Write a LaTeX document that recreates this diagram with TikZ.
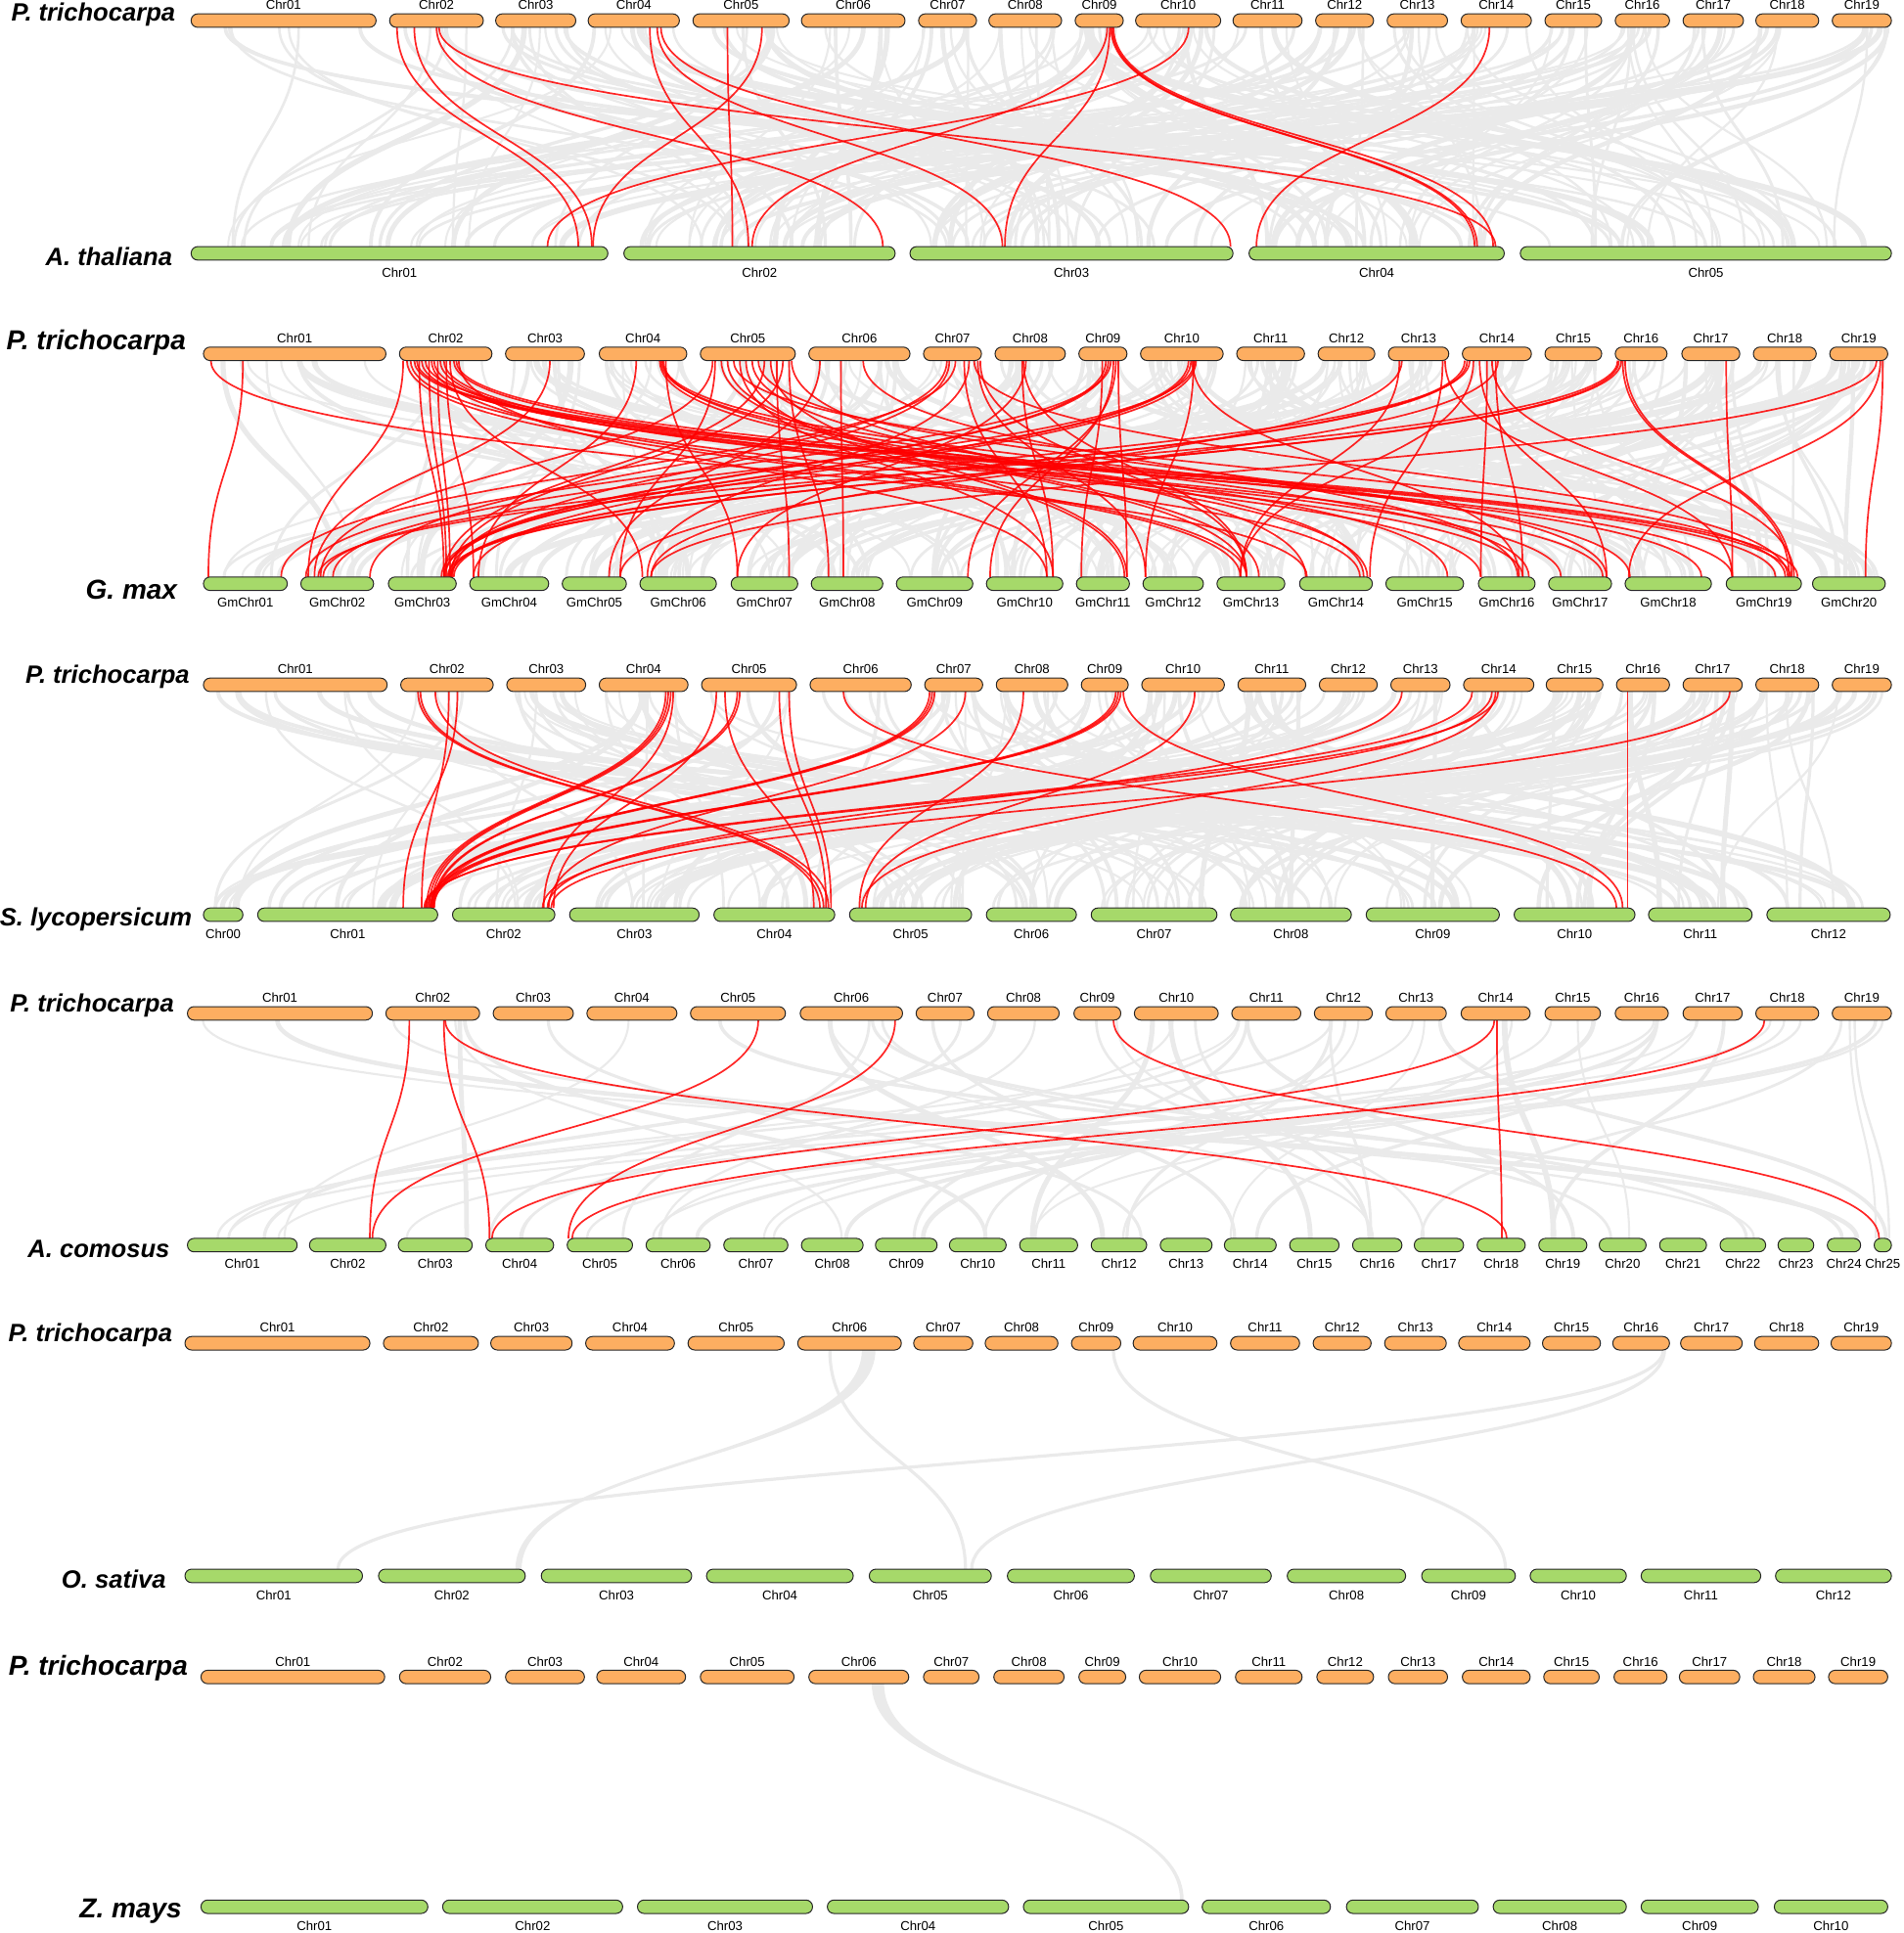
\documentclass[tikz,border=0pt]{standalone}
\usepackage{fontspec}
\setmainfont{Liberation Sans}
\usetikzlibrary{calc,backgrounds}
\definecolor{orangebar}{RGB}{253,174,97}
\definecolor{greenbar}{RGB}{166,217,106}
\definecolor{linkgray}{RGB}{234,234,234}
\definecolor{barline}{RGB}{40,40,40}
\tikzset{
  bar/.style={draw=barline, line width=0.5pt, rounded corners=3.4pt, minimum height=6.9pt, inner sep=0pt, outer sep=0pt},
  obar/.style={bar, fill=orangebar},
  gbar/.style={bar, fill=greenbar},
  clab/.style={font=\fontsize{6.6}{8}\selectfont, inner sep=0pt},
  spec/.style={font=\fontsize{12.8}{15}\selectfont\bfseries\itshape, inner sep=0pt, anchor=east},
  specbig/.style={font=\fontsize{14}{16}\selectfont\bfseries\itshape, inner sep=0pt, anchor=east},
  redl/.style={draw=red, line width=0.85pt, opacity=0.85},
  grayl/.style={draw=linkgray},
}
\newcommand\tchr[5]{\node[obar, minimum width={(#3-#2)*0.63pt}] (#1) at ({(#2+#3)/2},#4) {};
  \node[clab, anchor=south] (#1l) at ([yshift=1.9pt]#1.north) {#5};}
\newcommand\bchr[5]{\node[gbar, minimum width={(#3-#2)*0.63pt}] (#1) at ({(#2+#3)/2},#4) {};
  \node[clab, anchor=north] (#1l) at ([yshift=-3.6pt]#1.south) {#5};}
\newcommand\rlk[4]{\draw[redl] (#1.south -| #2,0) .. controls +(0,88) and +(0,-88) .. (#3.north -| #4,0);}
\newcommand\glk[5]{\draw[grayl, line width=#5pt] (#1.south -| #2,0) .. controls +(0,88) and +(0,-88) .. (#3.north -| #4,0);}
\newcommand\grib[6]{\fill[linkgray] (#1.south -| #2,0) .. controls +(0,88) and +(0,-88) .. (#4.north -| #5,0) -- (#4.north -| #6,0) .. controls +(0,-88) and +(0,88) .. (#1.south -| #3,0) -- cycle;}
\newcommand\grayset[5]{%
  \pgfmathsetseed{#5}%
  \foreach \k in {1,...,#4}{%
    \pgfmathrandominteger{\ga}{1}{#2}%
    \pgfmathrandominteger{\gb}{1}{#3}%
    \pgfmathsetmacro{\fa}{0.06+0.88*rnd}%
    \pgfmathsetmacro{\fb}{0.06+0.88*rnd}%
    \pgfmathsetmacro{\gw}{1.0+2.2*rnd*rnd}%
    \draw[grayl, line width=\gw pt] ($(#1t\ga.south west)!\fa!(#1t\ga.south east)$) .. controls +(0,88) and +(0,-88) .. ($(#1b\gb.north west)!\fb!(#1b\gb.north east)$);
  }}
\begin{document}
\begin{tikzpicture}[x=0.63pt,y=-0.63pt]
\useasboundingbox (0,0) rectangle (1544,1568);

% ---------------- Panel 1 : A. thaliana
\node[spec] (s1a) at (142.5,11.5) {P. trichocarpa};
\node[spec] (s1b) at (140,208.3) {A. thaliana};
\foreach \n/\xa/\xb [count=\i] in {Chr01/155/305,Chr02/316/392,Chr03/402/467,Chr04/477/551,Chr05/562/640,Chr06/650/734,Chr07/745/792,Chr08/802/861,Chr09/872/911,Chr10/921/990,Chr11/1000/1056,Chr12/1067/1114,Chr13/1125/1174,Chr14/1185/1242,Chr15/1253/1299,Chr16/1310/1354,Chr17/1365/1414,Chr18/1424/1475,Chr19/1486/1534}{\tchr{p1t\i}{\xa}{\xb}{16.7}{\n}}
\foreach \n/\xa/\xb [count=\i] in {Chr01/155/493,Chr02/506/726,Chr03/738/1000,Chr04/1013/1220,Chr05/1233/1534}{\bchr{p1b\i}{\xa}{\xb}{205.5}{\n}}

% ---------------- Panel 2 : G. max
\node[specbig] (s2a) at (151,278) {P. trichocarpa};
\node[specbig] (s2b) at (144,478) {G. max};
\foreach \n/\xa/\xb [count=\i] in {Chr01/165/313,Chr02/324/399,Chr03/410/474,Chr04/486/557,Chr05/568/645,Chr06/656/738,Chr07/749/796,Chr08/807/864,Chr09/875/914,Chr10/925/992,Chr11/1003/1058,Chr12/1069/1115,Chr13/1126/1175,Chr14/1186/1242,Chr15/1253/1299,Chr16/1310/1352,Chr17/1364/1411,Chr18/1422/1473,Chr19/1484/1531}{\tchr{p2t\i}{\xa}{\xb}{287}{\n}}
\foreach \n/\xa/\xb [count=\i] in {GmChr01/165/233,GmChr02/244/303,GmChr03/315/370,GmChr04/381/445,GmChr05/456/508,GmChr06/519/581,GmChr07/593/647,GmChr08/658/716,GmChr09/727/789,GmChr10/800/862,GmChr11/873/916,GmChr12/927/976,GmChr13/987/1042,GmChr14/1054/1113,GmChr15/1124/1187,GmChr16/1199/1245,GmChr17/1256/1307,GmChr18/1318/1388,GmChr19/1400/1461,GmChr20/1470/1529}{\bchr{p2b\i}{\xa}{\xb}{473.5}{\n}}

% ---------------- Panel 3 : S. lycopersicum
\node[spec] (s3a) at (154,549) {P. trichocarpa};
\node[spec] (s3b) at (156,746) {S. lycopersicum};
\foreach \n/\xa/\xb [count=\i] in {Chr01/165/314,Chr02/325/400,Chr03/411/475,Chr04/486/558,Chr05/569/646,Chr06/657/739,Chr07/750/797,Chr08/808/866,Chr09/877/915,Chr10/926/993,Chr11/1004/1059,Chr12/1070/1117,Chr13/1128/1176,Chr14/1187/1244,Chr15/1254/1300,Chr16/1311/1354,Chr17/1365/1413,Chr18/1424/1475,Chr19/1486/1534}{\tchr{p3t\i}{\xa}{\xb}{555.5}{\n}}
\foreach \n/\xa/\xb [count=\i] in {Chr00/165/197,Chr01/209/355,Chr02/367/450,Chr03/462/567,Chr04/579/677,Chr05/689/788,Chr06/800/873,Chr07/885/987,Chr08/998/1096,Chr09/1108/1216,Chr10/1228/1326,Chr11/1337/1421,Chr12/1433/1533}{\bchr{p3b\i}{\xa}{\xb}{742}{\n}}

% ---------------- Panel 4 : A. comosus
\node[spec] (s4a) at (141.4,816) {P. trichocarpa};
\node[spec] (s4b) at (138,1013.5) {A. comosus};
\foreach \n/\xa/\xb [count=\i] in {Chr01/152/302,Chr02/313/389,Chr03/400/465,Chr04/476/549,Chr05/560/637,Chr06/649/732,Chr07/743/790,Chr08/801/859,Chr09/871/909,Chr10/920/988,Chr11/999/1055,Chr12/1066/1113,Chr13/1124/1173,Chr14/1185/1241,Chr15/1253/1298,Chr16/1310/1353,Chr17/1365/1413,Chr18/1424/1475,Chr19/1486/1534}{\tchr{p4t\i}{\xa}{\xb}{822}{\n}}
\foreach \n/\xa/\xb [count=\i] in {Chr01/152/241,Chr02/251/313,Chr03/323/383,Chr04/394/449,Chr05/460/513,Chr06/524/576,Chr07/587/639,Chr08/650/700,Chr09/710/760,Chr10/770/816,Chr11/827/874,Chr12/885/930,Chr13/941/983,Chr14/993/1035,Chr15/1046/1086,Chr16/1097/1137,Chr17/1147/1187,Chr18/1198/1237,Chr19/1248/1287,Chr20/1297/1335,Chr21/1346/1384,Chr22/1395/1432,Chr23/1442/1471,Chr24/1482/1509,Chr25/1520/1534}{\bchr{p4b\i}{\xa}{\xb}{1010}{\n}}

% ---------------- Panel 5 : O. sativa
\node[spec] (s5a) at (140,1083) {P. trichocarpa};
\node[spec] (s5b) at (135,1280.7) {O. sativa};
\foreach \n/\xa/\xb [count=\i] in {Chr01/150/300,Chr02/311/388,Chr03/398/464,Chr04/475/547,Chr05/558/636,Chr06/647/731,Chr07/741/789,Chr08/799/858,Chr09/869/909,Chr10/919/987,Chr11/998/1054,Chr12/1065/1112,Chr13/1123/1173,Chr14/1183/1241,Chr15/1251/1298,Chr16/1308/1354,Chr17/1363/1413,Chr18/1423/1475,Chr19/1485/1534}{\tchr{p5t\i}{\xa}{\xb}{1089.6}{\n}}
\foreach \n/\xa/\xb [count=\i] in {Chr01/150/294,Chr02/307/426,Chr03/439/561,Chr04/573/692,Chr05/705/804,Chr06/817/920,Chr07/933/1031,Chr08/1044/1140,Chr09/1153/1229,Chr10/1241/1319,Chr11/1331/1428,Chr12/1440/1534}{\bchr{p5b\i}{\xa}{\xb}{1278.3}{\n}}

% ---------------- Panel 6 : Z. mays
\node[specbig] (s6a) at (152.6,1353) {P. trichocarpa};
\node[specbig] (s6b) at (147.7,1550) {Z. mays};
\foreach \n/\xa/\xb [count=\i] in {Chr01/163/312,Chr02/324/398,Chr03/410/474,Chr04/484/556,Chr05/568/644,Chr06/656/737,Chr07/749/794,Chr08/806/863,Chr09/875/913,Chr10/924/990,Chr11/1002/1056,Chr12/1068/1114,Chr13/1126/1174,Chr14/1186/1241,Chr15/1252/1297,Chr16/1309/1352,Chr17/1362/1411,Chr18/1422/1472,Chr19/1483/1531}{\tchr{p6t\i}{\xa}{\xb}{1360.3}{\n}}
\foreach \n/\xa/\xb [count=\i] in {Chr01/163/347,Chr02/359/505,Chr03/517/659,Chr04/671/818,Chr05/830/964,Chr06/975/1079,Chr07/1092/1199,Chr08/1211/1319,Chr09/1331/1426,Chr10/1439/1531}{\bchr{p6b\i}{\xa}{\xb}{1546.7}{\n}}

\begin{pgfonlayer}{background}
% gray collinear links
\grayset{p1}{19}{5}{180}{11}
\grayset{p2}{19}{20}{260}{23}
\grayset{p3}{19}{13}{190}{37}
\grayset{p4}{19}{25}{55}{41}
\glk{p5t6}{673}{p5b5}{783}{1.6}
\grib{p5t6}{699}{710}{p5b2}{418}{423}
\glk{p5t9}{903}{p5b9}{1221}{1.6}
\glk{p5t16}{1349}{p5b1}{274}{1.6}
\glk{p5t16}{1350}{p5b5}{788}{1.6}
\grib{p6t6}{707}{717}{p6b5}{957}{960}

% red links panel 1
\rlk{p1t2}{322}{p1b1}{469}
\rlk{p1t2}{336}{p1b1}{480}
\rlk{p1t2}{354}{p1b2}{716}
\rlk{p1t2}{356}{p1b4}{1213}
\rlk{p1t4}{527}{p1b2}{607}
\rlk{p1t4}{533}{p1b3}{813}
\rlk{p1t4}{536}{p1b3}{998}
\rlk{p1t5}{590}{p1b2}{594}
\rlk{p1t5}{618}{p1b1}{481}
\rlk{p1t9}{898}{p1b2}{610}
\rlk{p1t10}{964}{p1b1}{444}
\rlk{p1t9}{900}{p1b3}{815}
\rlk{p1t9}{901}{p1b4}{1196}
\rlk{p1t9}{902}{p1b4}{1198}
\rlk{p1t9}{903}{p1b4}{1211}
\rlk{p1t14}{1208}{p1b4}{1019}

% red links panel 2
\foreach \ta/\xa/\tb/\xb in {1/171/14/1060,1/197/1/169,2/327/2/250,2/330/13/1006,2/333/14/1103,2/336/19/1405,2/338/19/1440,2/340/3/360,2/342/17/1300,2/345/19/1452,2/348/3/362,2/350/13/1011,2/352/16/1235,2/355/3/365,2/357/16/1201,2/360/17/1266,2/362/4/384,2/365/6/521,2/368/18/1380,2/370/19/1458,2/372/10/849,3/446/2/255,4/516/4/388,4/535/14/1109,4/537/18/1322,4/538/15/1174,4/540/7/598,4/536/16/1240,5/578/2/260,5/580/5/503,5/585/13/1011,5/590/13/1021,5/595/19/1448,5/600/10/854,5/605/11/912,5/610/14/1106,5/615/17/1303,5/620/3/360,5/625/11/914,5/630/7/640,5/635/3/366,5/640/8/672,5/642/14/1059,6/665/5/494,6/682/8/684,6/700/16/1231,7/768/2/300,7/770/3/367,7/775/1/228,7/782/10/849,7/786/6/525,7/790/19/1450,7/793/12/929,7/795/13/1011,8/829/10/854,8/830/13/1011,8/832/7/598,9/894/11/877,9/897/3/361,9/899/3/364,9/901/2/248,9/903/10/803,9/907/11/914,9/905/9/785,10/964/3/358,10/966/3/360,10/967/16/1232,10/968/12/929,10/970/4/384,10/969/2/270,13/1135/13/1006,13/1137/6/528,13/1170/14/1111,13/1172/19/1405,14/1188/3/366,14/1190/3/368,14/1192/2/262,14/1195/13/1006,14/1206/16/1201,14/1210/19/1455,14/1213/16/1235,14/1215/5/503,14/1200/17/1303,16/1313/3/363,16/1315/3/365,16/1316/19/1451,16/1318/19/1453,16/1312/2/258,17/1400/19/1405,19/1527/20/1513,19/1525/18/1321,19/1522/6/528}{\rlk{p2t\ta}{\xa}{p2b\tb}{\xb}}

% red links panel 3
\foreach \ta/\xa/\tb/\xb in {2/364/2/342,2/371/2/327,2/339/5/665,2/341/5/668,2/353/5/672,4/540/2/346,4/542/2/348,4/544/2/350,4/546/3/441,5/581/3/449,5/598/2/351,5/600/2/352,5/588/5/660,5/632/5/670,5/640/5/674,6/684/11/1311,7/754/2/349,7/756/2/350,7/758/2/352,7/783/3/445,8/830/6/697,9/905/2/347,9/907/2/349,9/909/2/351,9/911/11/1316,10/969/6/702,13/1137/3/444,14/1194/2/345,14/1210/3/440,14/1213/6/699,14/1215/2/344,16/1320/11/1320,17/1403/3/447}{\rlk{p3t\ta}{\xa}{p3b\tb}{\xb}}

% red links panel 4
\rlk{p4t2}{332}{p4b2}{300}
\rlk{p4t2}{360}{p4b4}{397}
\rlk{p4t2}{361}{p4b18}{1222}
\rlk{p4t5}{615}{p4b2}{302}
\rlk{p4t6}{726}{p4b5}{461}
\rlk{p4t9}{903}{p4b25}{1524}
\rlk{p4t14}{1212}{p4b4}{399}
\rlk{p4t14}{1214}{p4b18}{1218}
\rlk{p4t18}{1431}{p4b5}{464}
\end{pgfonlayer}
\end{tikzpicture}
\end{document}
